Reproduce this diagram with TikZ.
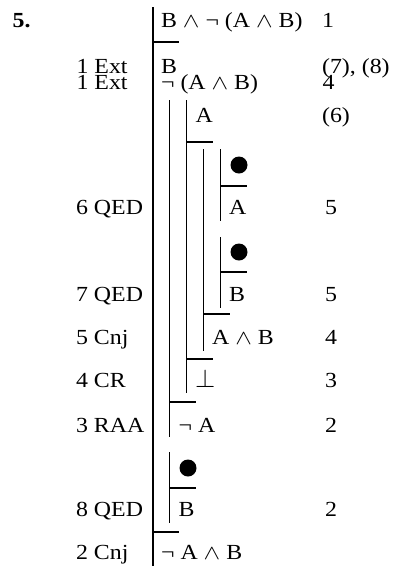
\documentclass[tikz,border=0pt]{standalone}
\usepackage{fontspec}
\setmainfont[FakeStretch=1.11]{Liberation Serif}
\newcommand{\conj}{\scalebox{1.2}[1]{$\wedge$}}
\newcommand{\falsum}{\scalebox{1.25}{$\bot$}}
\begin{document}
\begin{tikzpicture}[x=1pt,y=-1pt,line width=1.2pt,
  txt/.style={anchor=base west,inner sep=0pt,font=\fontsize{21.5}{24}\selectfont},
  dot/.style={circle,fill=black,draw=none,inner sep=0pt,minimum size=17pt},
  bar/.style={line width=1.2pt}]
\useasboundingbox (0,0) rectangle (395,566);

% scope lines of the subproofs
\draw[bar] (153,7) -- (153,566);
\draw[bar] (169.5,100) -- (169.5,437);
\draw[bar] (186.5,100) -- (186.5,393);
\draw[bar] (203.5,149) -- (203.5,351);
\draw[bar] (220.5,149) -- (220.5,221);
\draw[bar] (220.5,237) -- (220.5,308);
\draw[bar] (169.5,452) -- (169.5,523);

% horizontal bars
\draw[bar] (153,42) -- ++(25.5,0);
\draw[bar] (186.5,142) -- ++(26,0);
\draw[bar] (220.5,186) -- ++(26,0);
\draw[bar] (220.5,272) -- ++(26,0);
\draw[bar] (203.5,314) -- ++(26,0);
\draw[bar] (186.5,359) -- ++(26,0);
\draw[bar] (169.5,402) -- ++(26,0);
\draw[bar] (169.5,488) -- ++(26,0);
\draw[bar] (153,532) -- ++(25.5,0);

% number of the exercise
\node[txt] (five) at (12,27.5) {\bfseries 5.};

% premise
\node[txt] (f1) at (160.5,27.5) {B \conj{} ¬ (A \conj{} B)};
\node[txt] (j1) at (321.5,27.5) {1};

\node[txt] (l2) at (76,73.5) {1 Ext};
\node[txt] (f2) at (160.5,73.5) {B};
\node[txt] (j2) at (321.5,73.5) {(7), (8)};

\node[txt] (l3) at (76,89.5) {1 Ext};
\node[txt] (f3) at (160.5,89.5) {¬ (A \conj{} B)};
\node[txt] (j3) at (322,89.5) {4};

\node[txt] (f4) at (195,122) {A};
\node[txt] (j4) at (321.5,122) {(6)};

\node[dot] (d1) at (239,165) {};
\node[txt] (l5) at (75.5,214) {6 QED};
\node[txt] (f5) at (228.5,214) {A};
\node[txt] (j5) at (324.5,214) {5};

\node[dot] (d2) at (239,252) {};
\node[txt] (l6) at (75.5,301) {7 QED};
\node[txt] (f6) at (228.5,301) {B};
\node[txt] (j6) at (324.5,301) {5};

\node[txt] (l7) at (75.5,344.5) {5 Cnj};
\node[txt] (f7) at (211.5,344.5) {A \conj{} B};
\node[txt] (j7) at (324.5,344.5) {4};

\node[txt] (l8) at (75.5,387) {4 CR};
\node[txt] (f8) at (194.5,387) {\falsum};
\node[txt] (j8) at (324.5,387) {3};

\node[txt] (l9) at (75.5,432) {3 RAA};
\node[txt] (f9) at (178,432) {¬ A};
\node[txt] (j9) at (324.5,432) {2};

\node[dot] (d3) at (188,468) {};
\node[txt] (l10) at (75.5,516.5) {8 QED};
\node[txt] (f10) at (178,516.5) {B};
\node[txt] (j10) at (324.5,516.5) {2};

\node[txt] (l11) at (75.5,559.5) {2 Cnj};
\node[txt] (f11) at (160.5,559.5) {¬ A \conj{} B};
\end{tikzpicture}
\end{document}
